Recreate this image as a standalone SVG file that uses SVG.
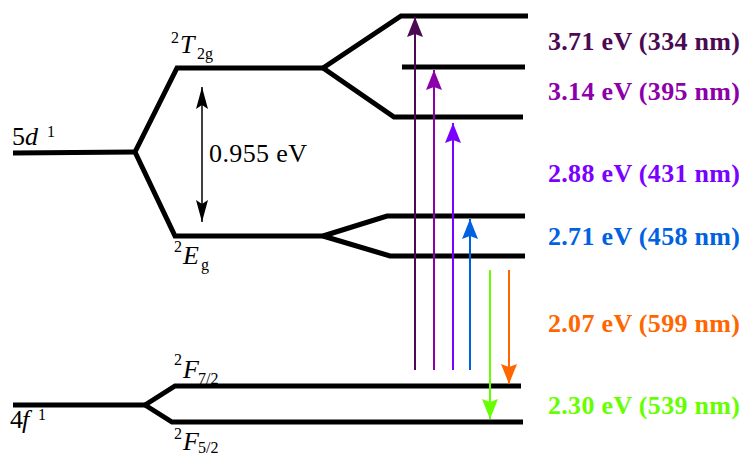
<svg xmlns="http://www.w3.org/2000/svg" width="743" height="456" viewBox="0 0 743 456">
<style>
.lvl{fill:none;stroke:#000;stroke-width:5;stroke-linejoin:miter;stroke-miterlimit:10}
.t{font-family:"Liberation Serif","Times New Roman",serif;font-size:26px;fill:#000}
.i{font-style:italic}
.s{font-size:16px;font-style:normal}
.r{font-family:"Liberation Serif","Times New Roman",serif;font-size:26px;font-weight:bold}
.ar{fill:none;stroke-width:2}
</style>
<defs>
<marker id="mk" markerUnits="userSpaceOnUse" viewBox="0 0 22 12" refX="22" refY="6" markerWidth="22" markerHeight="12" orient="auto-start-reverse"><path d="M0,0 L22,6 L0,12 L4,6 z" fill="#000"/></marker>
<marker id="m1" markerUnits="userSpaceOnUse" viewBox="0 0 20 16" refX="20" refY="8" markerWidth="20" markerHeight="16" orient="auto"><path d="M0,0 L20,8 L0,16 L3,8 z" fill="#4b0a52"/></marker>
<marker id="m2" markerUnits="userSpaceOnUse" viewBox="0 0 20 16" refX="20" refY="8" markerWidth="20" markerHeight="16" orient="auto"><path d="M0,0 L20,8 L0,16 L3,8 z" fill="#8c00aa"/></marker>
<marker id="m3" markerUnits="userSpaceOnUse" viewBox="0 0 20 16" refX="20" refY="8" markerWidth="20" markerHeight="16" orient="auto"><path d="M0,0 L20,8 L0,16 L3,8 z" fill="#7a00ff"/></marker>
<marker id="m4" markerUnits="userSpaceOnUse" viewBox="0 0 20 16" refX="20" refY="8" markerWidth="20" markerHeight="16" orient="auto"><path d="M0,0 L20,8 L0,16 L3,8 z" fill="#0062e0"/></marker>
<marker id="m5" markerUnits="userSpaceOnUse" viewBox="0 0 20 16" refX="20" refY="8" markerWidth="20" markerHeight="16" orient="auto"><path d="M0,0 L20,8 L0,16 L3,8 z" fill="#66ff00"/></marker>
<marker id="m6" markerUnits="userSpaceOnUse" viewBox="0 0 20 16" refX="20" refY="8" markerWidth="20" markerHeight="16" orient="auto"><path d="M0,0 L20,8 L0,16 L3,8 z" fill="#ff6600"/></marker>
</defs>

<g id="level-5d">
<path class="lvl" d="M13,153 L135,152"/>
<text class="t" x="12" y="145">5<tspan class="i" x="25">d</tspan><tspan class="s" x="47" y="137">1</tspan></text>
</g>
<g id="level-T2g">
<path class="lvl" d="M135,152 L177,68 L323,68"/>
<text class="t"><tspan class="s" x="171" y="43">2</tspan><tspan class="i" x="180" y="53">T</tspan><tspan class="s" x="197" y="59">2g</tspan></text>
</g>
<g id="level-Eg">
<path class="lvl" d="M135,152 L175,236 L323,236"/>
<text class="t"><tspan class="s" x="174" y="252">2</tspan><tspan class="i" x="183" y="264">E</tspan><tspan class="s" x="201" y="270">g</tspan></text>
</g>
<g id="T2g-split">
<path class="lvl" d="M323,68 L401,16 L528,16"/>
<path class="lvl" d="M402,67 L525,67"/>
<path class="lvl" d="M323,68 L394,117 L523,117"/>
</g>
<g id="Eg-split">
<path class="lvl" d="M323,236 L387,216 L525,216"/>
<path class="lvl" d="M323,236 L390,256 L525,256"/>
</g>
<g id="level-4f">
<path class="lvl" d="M13,405 L145,405"/>
<text class="t" x="10" y="428">4<tspan class="i" x="22">f</tspan><tspan class="s" x="38" y="420">1</tspan></text>
</g>
<g id="level-F72">
<path class="lvl" d="M145,405 L175,386 L521,386"/>
<text class="t"><tspan class="s" x="174" y="365">2</tspan><tspan class="i" x="183" y="378">F</tspan><tspan class="s" x="198" y="384">7/2</tspan></text>
</g>
<g id="level-F52">
<path class="lvl" d="M145,405 L172,422 L523,422"/>
<text class="t"><tspan class="s" x="174" y="439">2</tspan><tspan class="i" x="183" y="450">F</tspan><tspan class="s" x="198" y="453">5/2</tspan></text>
</g>

<g id="connectors">
<path d="M202,87 L202,222" fill="none" stroke="#000" stroke-width="1.5" marker-start="url(#mk)" marker-end="url(#mk)"/>
<path class="ar" d="M415,370 L415,17" stroke="#4b0a52" marker-end="url(#m1)"/>
<path class="ar" d="M434,370 L434,70" stroke="#8c00aa" marker-end="url(#m2)"/>
<path class="ar" d="M453,370 L453,123" stroke="#7a00ff" marker-end="url(#m3)"/>
<path class="ar" d="M470,370 L470,219" stroke="#0062e0" marker-end="url(#m4)"/>
<path class="ar" d="M490,270 L490,419" stroke="#66ff00" marker-end="url(#m5)"/>
<path class="ar" d="M509,270 L509,384" stroke="#ff6600" marker-end="url(#m6)"/>
</g>

<g id="labels">
<text class="t" x="209" y="162" font-size="24" textLength="98">0.955 eV</text>
<text class="r" x="548" y="50" fill="#4b0a52" textLength="192">3.71 eV (334 nm)</text>
<text class="r" x="548" y="100" fill="#8c00aa" textLength="192">3.14 eV (395 nm)</text>
<text class="r" x="548" y="182" fill="#7a00ff" textLength="192">2.88 eV (431 nm)</text>
<text class="r" x="548" y="245" fill="#0062e0" textLength="192">2.71 eV (458 nm)</text>
<text class="r" x="548" y="332" fill="#ff6600" textLength="192">2.07 eV (599 nm)</text>
<text class="r" x="548" y="414" fill="#66ff00" textLength="192">2.30 eV (539 nm)</text>
</g>
</svg>
